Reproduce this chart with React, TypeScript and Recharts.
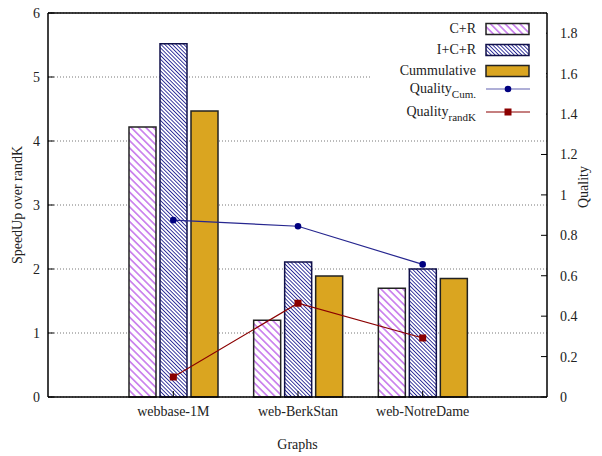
import React from 'react';
import { ComposedChart, Bar, Line, XAxis, YAxis, CartesianGrid, Legend, ReferenceLine } from 'recharts';

const categories = ['webbase-1M', 'web-BerkStan', 'web-NotreDame'];
const crValues = [4.22, 1.2, 1.7];
const icrValues = [5.52, 2.11, 2.0];
const cumValues = [4.47, 1.89, 1.85];
const qualityCum = [0.875, 0.845, 0.656];
const qualityRandK = [0.099, 0.464, 0.292];

const leftTicks = [0, 1, 2, 3, 4, 5, 6];
const rightTicks = [0, 0.2, 0.4, 0.6, 0.8, 1, 1.2, 1.4, 1.6, 1.8];

const data = categories.map((name, i) => ({
  name,
  cr: crValues[i],
  icr: icrValues[i],
  cum: cumValues[i],
  qCum: qualityCum[i],
  qRandK: qualityRandK[i],
}));

const FONT = 'Liberation Serif, Times New Roman, Times, Tinos, DejaVu Serif, serif';
const tickStyle = { fontFamily: FONT, fontSize: 14, fill: '#222' };

const Patterns = () => (
  <defs>
    <pattern id="hatchCR" patternUnits="userSpaceOnUse" width="10" height="5.2" patternTransform="rotate(45)">
      <rect width="10" height="5.2" fill="#fff" />
      <line x1="0" y1="2.6" x2="10" y2="2.6" stroke="#a52ae0" strokeWidth="1" />
    </pattern>
    <pattern id="hatchICR" patternUnits="userSpaceOnUse" width="10" height="2.7" patternTransform="rotate(45)">
      <rect width="10" height="2.7" fill="#fff" />
      <line x1="0" y1="1.35" x2="10" y2="1.35" stroke="#1a1a90" strokeWidth="0.9" />
    </pattern>
  </defs>
);

const legendRows = [
  { label: 'C+R', sub: '', kind: 'bar', fill: 'url(#hatchCR)', stroke: '#222', top: 7 },
  { label: 'I+C+R', sub: '', kind: 'bar', fill: 'url(#hatchICR)', stroke: '#10104a', top: 28 },
  { label: 'Cummulative', sub: '', kind: 'bar', fill: '#daa520', stroke: '#222', top: 49 },
  { label: 'Quality', sub: 'Cum.', kind: 'circle', fill: '#000080', stroke: '#6060b0', top: 67 },
  { label: 'Quality', sub: 'randK', kind: 'square', fill: '#8b0000', stroke: '#8b0000', top: 90 },
];

const LegendBox = () => (
  <div style={{ position: 'relative', width: 174, height: 112, background: '#fff', fontFamily: FONT, fontSize: 14, color: '#222' }}>
    {legendRows.map((r, i) => (
      <div key={i} style={{ position: 'absolute', top: r.top, left: 0, width: 174, height: 20 }}>
        <div style={{ position: 'absolute', right: 70, top: 0, whiteSpace: 'nowrap', lineHeight: '16px' }}>
          {r.label}
          {r.sub ? <sub style={{ fontSize: 11, verticalAlign: '-5px' }}>{r.sub}</sub> : null}
        </div>
        <svg width={46} height={14} style={{ position: 'absolute', left: 113, top: 1 }}>
          {r.kind === 'bar' && <rect x={1} y={1.5} width={43} height={11} fill={r.fill} stroke={r.stroke} strokeWidth={1.5} />}
          {r.kind === 'circle' && (
            <g>
              <line x1={1} y1={7} x2={45} y2={7} stroke={r.stroke} strokeWidth={1.2} />
              <circle cx={23} cy={7} r={3.3} fill={r.fill} />
            </g>
          )}
          {r.kind === 'square' && (
            <g>
              <line x1={1} y1={7} x2={45} y2={7} stroke={r.stroke} strokeWidth={1.2} />
              <rect x={19.5} y={3.5} width={7} height={7} fill={r.fill} />
            </g>
          )}
        </svg>
      </div>
    ))}
  </div>
);

const SquareDot = (props: any) => {
  const { cx, cy } = props;
  if (cx == null || cy == null) return null;
  return <rect x={cx - 3.5} y={cy - 3.5} width={7} height={7} fill="#8b0000" />;
};

export default function App() {
  return (
    <div style={{ position: 'absolute', left: 0, top: 0, width: 602, height: 456, background: '#fff', fontFamily: FONT }}>
      <ComposedChart
        width={602}
        height={456}
        data={data}
        margin={{ top: 13, right: 10, bottom: 4, left: 13 }}
        barSize={27}
        barGap={4}
      >
        <Patterns />
        <CartesianGrid yAxisId="left" vertical={false} stroke="#777" strokeDasharray="1 2" />
        <XAxis
          dataKey="name"
          height={55}
          padding={{ left: 63, right: 62 }}
          tickSize={-6}
          tickMargin={15}
          tick={tickStyle}
          axisLine={{ stroke: '#000', strokeWidth: 1.5 }}
          tickLine={{ stroke: '#000' }}
          label={{ value: 'Graphs', position: 'insideBottom', offset: 3, style: tickStyle }}
        />
        <YAxis
          yAxisId="left"
          width={35}
          domain={[0, 6]}
          ticks={leftTicks}
          tickSize={-6}
          tickMargin={14}
          tick={tickStyle}
          axisLine={{ stroke: '#000', strokeWidth: 1.5 }}
          tickLine={{ stroke: '#000' }}
          label={{ value: 'SpeedUp over randK', angle: -90, position: 'center', dx: -13, style: tickStyle }}
        />
        <YAxis
          yAxisId="right"
          orientation="right"
          width={45}
          domain={[0, 1.9]}
          ticks={rightTicks}
          tickSize={-6}
          tickMargin={19}
          tick={{ ...tickStyle, textAnchor: 'start' }}
          axisLine={{ stroke: '#000', strokeWidth: 1.5 }}
          tickLine={{ stroke: '#000' }}
          label={{ value: 'Quality', angle: -90, position: 'center', dx: 14, dy: -18, style: tickStyle }}
        />
        <ReferenceLine yAxisId="left" y={6} stroke="#000" strokeWidth={1.5} />
        <Legend
          layout="vertical"
          align="center"
          verticalAlign="middle"
          content={() => <LegendBox />}
          wrapperStyle={{ position: 'absolute', top: 14, left: 372, width: 174, height: 112 }}
        />
        <Bar yAxisId="left" dataKey="cr" name="C+R" fill="url(#hatchCR)" stroke="#222" strokeWidth={1.5} isAnimationActive={false} />
        <Bar yAxisId="left" dataKey="icr" name="I+C+R" fill="url(#hatchICR)" stroke="#10104a" strokeWidth={1.5} isAnimationActive={false} />
        <Bar yAxisId="left" dataKey="cum" name="Cummulative" fill="#daa520" stroke="#222" strokeWidth={1.5} isAnimationActive={false} />
        <Line
          yAxisId="right"
          type="linear"
          dataKey="qCum"
          name="Quality Cum."
          stroke="#26268f"
          strokeWidth={1.2}
          dot={{ r: 3.3, fill: '#000080', stroke: 'none' }}
          isAnimationActive={false}
        />
        <Line
          yAxisId="right"
          type="linear"
          dataKey="qRandK"
          name="Quality randK"
          stroke="#8b0000"
          strokeWidth={1.2}
          dot={<SquareDot />}
          isAnimationActive={false}
        />
      </ComposedChart>
    </div>
  );
}
